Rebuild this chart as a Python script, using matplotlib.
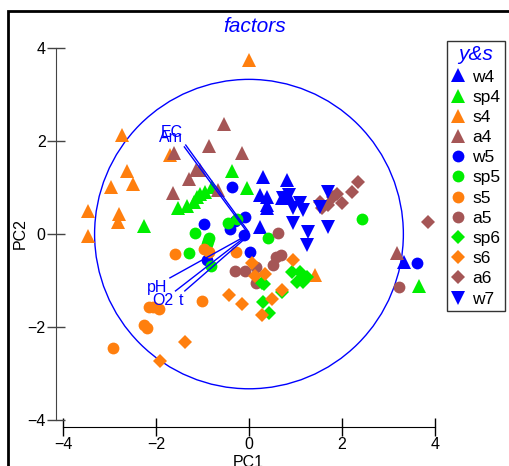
import matplotlib.pyplot as plt
from matplotlib.patches import Circle, Rectangle

plt.rcParams['font.family'] = ['Liberation Sans', 'DejaVu Sans']

# scores per group: (PC1, PC2)
w4_x = [0.31, 0.81, 0.24, 0.38, 0.38, 0.38, 0.70, 0.85, 0.24, 3.33]
w4_y = [1.22, 1.16, 0.84, 0.79, 0.62, 0.55, 0.78, 0.79, 0.16, -0.59]
sp4_x = [-0.36, -0.05, -0.80, -0.95, -1.05, -1.11, -1.18, -1.34, -1.52, -2.25, 3.66]
sp4_y = [1.35, 0.98, 1.02, 0.91, 0.86, 0.80, 0.69, 0.60, 0.55, 0.18, -1.12]
s4_x = [0.01, -2.72, -1.70, -2.63, -2.97, -2.49, -3.46, -2.80, -2.81, -3.47, 1.42]
s4_y = [3.73, 2.12, 1.70, 1.36, 1.02, 1.07, 0.50, 0.44, 0.26, -0.04, -0.87]
a4_x = [-0.54, -0.87, -0.14, -1.61, -1.13, -1.05, -1.30, -1.63, -0.66, 3.18]
a4_y = [2.36, 1.90, 1.73, 1.75, 1.37, 1.37, 1.19, 0.89, 0.94, -0.40]
w5_x = [-0.37, -0.09, -0.96, -0.41, -0.10, 0.02, -0.91, 3.61, -0.30]
w5_y = [1.02, 0.37, 0.21, 0.10, -0.02, -0.39, -0.56, -0.62, 0.28]
sp5_x = [-0.46, -0.25, -1.16, -0.85, -0.91, -0.88, -1.28, -0.82, 0.41, 2.44]
sp5_y = [0.24, 0.33, 0.03, -0.08, -0.21, -0.14, -0.41, -0.68, -0.09, 0.32]
s5_x = [-1.60, -0.97, -0.85, -0.27, -1.00, -2.16, -2.06, -1.93, -2.26, -2.20, -2.92]
s5_y = [-0.43, -0.32, -0.39, -0.38, -1.43, -1.56, -1.57, -1.60, -1.95, -2.02, -2.45]
a5_x = [0.62, 0.69, 0.52, -0.30, -0.09, 0.16, 0.15, 3.23, 0.58]
a5_y = [0.03, -0.45, -0.67, -0.79, -0.79, -0.70, -1.04, -1.14, -0.50]
sp6_x = [0.27, 0.31, 0.42, 0.72, 0.92, 1.10, 1.03, 1.17, 1.24, 0.32]
sp6_y = [-1.06, -1.45, -1.70, -1.24, -0.81, -0.81, -1.02, -1.02, -0.92, -1.08]
s6_x = [0.07, 0.13, 0.34, 0.95, 0.72, 0.50, 0.29, -0.14, -0.43, -1.38, -1.91]
s6_y = [-0.63, -0.90, -0.86, -0.56, -1.19, -1.40, -1.74, -1.50, -1.31, -2.32, -2.73]
a6_x = [2.35, 2.21, 2.01, 1.89, 1.81, 1.71, 1.53, 1.56, 3.86]
a6_y = [1.12, 0.91, 0.67, 0.87, 0.80, 0.62, 0.69, 0.55, 0.26]
w7_x = [0.85, 1.10, 0.95, 1.17, 1.53, 1.71, 0.95, 1.28, 1.71, 1.24, 0.74]
w7_y = [0.84, 0.66, 0.55, 0.51, 0.59, 0.91, 0.23, 0.05, 0.16, -0.24, 0.77]

groups = ['w4', 'sp4', 's4', 'a4', 'w5', 'sp5', 's5', 'a5', 'sp6', 's6', 'a6', 'w7']
xs = [w4_x, sp4_x, s4_x, a4_x, w5_x, sp5_x, s5_x, a5_x, sp6_x, s6_x, a6_x, w7_x]
ys = [w4_y, sp4_y, s4_y, a4_y, w5_y, sp5_y, s5_y, a5_y, sp6_y, s6_y, a6_y, w7_y]

# loading vectors: start, end, label position
vec_names = ['EC', 'Am', 'pH', 'O2', 't']
vec_x0 = [-0.01, -0.03, -0.16, -0.13, -0.10]
vec_y0 = [0.05, 0.03, -0.09, -0.10, -0.11]
vec_x1 = [-1.36, -1.39, -1.70, -1.58, -1.38]
vec_y1 = [1.91, 1.87, -0.94, -1.22, -1.22]
lab_x = [-1.65, -1.68, -1.98, -1.85, -1.47]
lab_y = [2.19, 2.07, -1.14, -1.42, -1.42]
radius = 3.32

blue = '#0000ff'
green = '#00ee00'
orange = '#ff7f0e'
brown = '#a55656'
colors = [blue, green, orange, brown] * 2 + [green, orange, brown, blue]
markers = ['^'] * 4 + ['o'] * 4 + ['D'] * 3 + ['v']
sizes = {'^': 10.5, 'o': 8.5, 'D': 7.5, 'v': 10.5}

fig = plt.figure(figsize=(5.09, 4.66), dpi=100)
ax = fig.add_axes([0.110, 0.0837, 0.772, 0.834])
ax.set_xlim(-4.15, 4.3)
ax.set_ylim(-4.14, 4.2)

ax.add_patch(Circle((0, 0), radius, fill=False, color=blue, lw=1))

for g, x, y, c, m in zip(groups, xs, ys, colors, markers):
    ax.plot(x, y, linestyle='none', marker=m, color=c, ms=sizes[m],
            mew=0, label=g)

for i in range(len(vec_names)):
    ax.plot([vec_x0[i], vec_x1[i]], [vec_y0[i], vec_y1[i]], color=blue, lw=1)
    ax.text(lab_x[i], lab_y[i], vec_names[i], color=blue, fontsize=11.5,
            ha='center', va='center')

for s in ['top', 'right']:
    ax.spines[s].set_visible(False)
ax.spines['left'].set_bounds(-4, 4)
ax.spines['bottom'].set_bounds(-4, 4)
ax.spines['left'].set_color('#444444')
ax.spines['bottom'].set_color('black')
ax.set_xticks([-4, -2, 0, 2, 4])
ax.set_yticks([-4, -2, 0, 2, 4])
ax.tick_params(direction='inout', length=13, width=1, labelsize=11.5, pad=1)
ax.tick_params(axis='y', colors='#444444', labelcolor='black')

fig.text(0.501, 0.943, 'factors', color=blue, fontsize=15, style='italic',
         ha='center', va='center')
fig.text(0.040, 0.498, 'PC2', fontsize=11.5, rotation=90, ha='center', va='center')
fig.text(0.488, 0.008, 'PC1', fontsize=11.5, ha='center', va='center')

leg = ax.legend(loc='upper left', bbox_to_anchor=(447 / 509, 1 - 41 / 466),
                bbox_transform=fig.transFigure, frameon=True, fancybox=False,
                edgecolor='black', fontsize=12.5, title='y&s',
                handlelength=0.8, handletextpad=0.4, borderpad=0.25,
                labelspacing=0.29, borderaxespad=0, markerscale=1.0)
leg.get_title().set_color(blue)
leg.get_title().set_style('italic')
leg.get_title().set_fontsize(15)
leg.get_frame().set_linewidth(1)

# outer frame around the figure
fig.patches.append(Rectangle((8 / 509, -0.1), 1.2, 1.1 - 11 / 466,
                             transform=fig.transFigure, fill=False,
                             edgecolor='black', lw=2))

fig.savefig('out.png', dpi=100)
